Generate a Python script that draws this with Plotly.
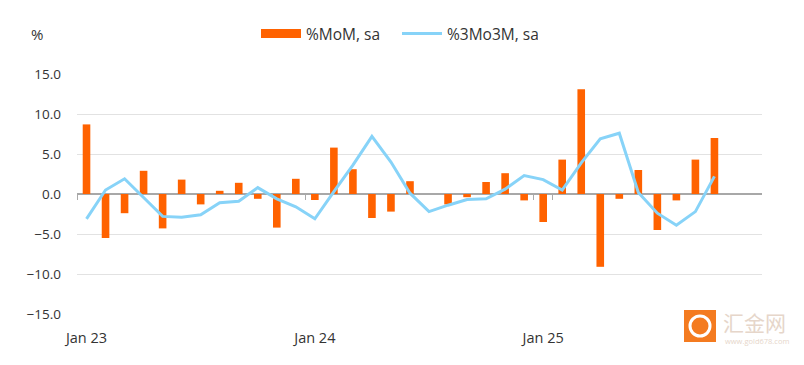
import plotly.graph_objects as go

# ---- data ----
all_months = [f"{m} {y}" for y in ("23", "24", "25") for m in
              ("Jan", "Feb", "Mar", "Apr", "May", "Jun", "Jul", "Aug", "Sep", "Oct", "Nov", "Dec")]
months = all_months[:34]  # Jan 23 .. Oct 25
mom_sa = [8.7, -5.5, -2.4, 2.9, -4.3, 1.8, -1.3, 0.4, 1.4, -0.6, -4.2, 1.9,
          -0.75, 5.8, 3.1, -3.0, -2.2, 1.6, 0.0, -1.3, -0.4, 1.5, 2.6, -0.8,
          -3.5, 4.3, 13.1, -9.1, -0.6, 3.0, -4.5, -0.8, 4.3, 7.0]
m3m3_sa = [-3.1, 0.5, 1.9, -0.4, -2.8, -2.9, -2.6, -1.1, -0.9, 0.8, -0.6, -1.6,
           -3.1, 0.3, 3.6, 7.2, 4.0, 0.1, -2.2, -1.4, -0.7, -0.6, 0.6, 2.3,
           1.8, 0.5, 3.9, 6.9, 7.6, 0.2, -2.4, -3.9, -2.2, 2.2]
x_ticks = ["Jan 23", "Jan 24", "Jan 25"]
y_ticks = [-15, -10, -5, 0, 5, 10, 15]

ORANGE = "#FF6200"
BLUE = "#87D3F8"
TXT = "#333333"
FONT = "Open Sans, Lato, sans-serif"

fig = go.Figure()
fig.add_trace(go.Bar(x=months, y=mom_sa, marker_color=ORANGE, marker_line_width=0,
                     name="%MoM, sa", showlegend=False))
fig.add_trace(go.Scatter(x=months, y=m3m3_sa, mode="lines", line=dict(color=BLUE, width=3),
                         name="%3Mo3M, sa", showlegend=False))
# legend entries (swatches)
fig.add_trace(go.Scatter(x=[None], y=[None], mode="lines", line=dict(color=ORANGE, width=9),
                         name="%MoM, sa"))
fig.add_trace(go.Scatter(x=[None], y=[None], mode="lines", line=dict(color=BLUE, width=3),
                         name="%3Mo3M, sa"))

OFF = 8  # page body margin
W, H = 804, 365
L, R, T, B = 77 - OFF, W - 762 + OFF, 74 - OFF, H - 314 + OFF
pw, ph = W - L - R, H - T - B

def px(xp):
    return (xp - OFF - L) / pw

def py(yp):
    return (H - B - (yp - OFF)) / ph

fig.update_layout(
    width=W, height=H,
    margin=dict(l=L, r=R, t=T, b=B, pad=0, autoexpand=False),
    plot_bgcolor="white", paper_bgcolor="white",
    font=dict(family=FONT, size=13, color=TXT),
    bargap=0.6,
    legend=dict(orientation="h", xref="container", x=(264 - OFF - 8) / W, xanchor="left",
                yref="container", y=1 - (34 - OFF) / H, yanchor="middle",
                font=dict(size=15.5, color=TXT), itemwidth=40, tracegroupgap=0,
                entrywidth=86, entrywidthmode="pixels",
                bgcolor="rgba(0,0,0,0)"),
    xaxis=dict(type="category", categoryorder="array", categoryarray=all_months,
               range=[-0.5, 35.5], tickmode="array", tickvals=x_ticks, ticktext=x_ticks,
               tickson="boundaries", ticks="outside", ticklen=5, tickcolor="#aaaaaa",
               tickwidth=1, showgrid=False, showline=False, zeroline=False,
               anchor="free", position=0.5, ticklabelstandoff=133, tickangle=0,
               automargin=False, tickfont=dict(size=14.5, color=TXT)),
    yaxis=dict(range=[-15, 15], tickvals=y_ticks, tickformat=".1f",
               showgrid=True, gridcolor="#e2e2e2", gridwidth=1,
               zeroline=True, zerolinecolor="#a8a8a8", zerolinewidth=1.5,
               showline=False, ticks="", ticklabelstandoff=15, automargin=False,
               tickfont=dict(size=13.5, color=TXT)),
)

fig.add_annotation(text="%", xref="paper", yref="paper", x=px(29), y=py(34),
                   xanchor="left", yanchor="middle", showarrow=False,
                   font=dict(size=15, color=TXT))

# watermark
fig.add_shape(type="rect", xref="paper", yref="paper",
              x0=px(684), x1=px(716), y0=py(342), y1=py(310),
              fillcolor="#F47B20", line=dict(width=0), layer="above")
fig.add_shape(type="circle", xref="paper", yref="paper",
              x0=px(690), x1=px(710), y0=py(336), y1=py(316),
              fillcolor="rgba(0,0,0,0)", line=dict(color="white", width=3), layer="above")
fig.add_annotation(text="汇金网", xref="paper", yref="paper", x=px(721), y=py(322),
                   xanchor="left", yanchor="middle", showarrow=False,
                   font=dict(size=21, color="#E6D6CA", family="Noto Sans CJK SC"))
fig.add_annotation(text="www.gold678.com", xref="paper", yref="paper", x=px(723), y=py(341),
                   xanchor="left", yanchor="middle", showarrow=False,
                   font=dict(size=7.5, color="#E6D6CA", family=FONT))

fig.write_html("out.html")
